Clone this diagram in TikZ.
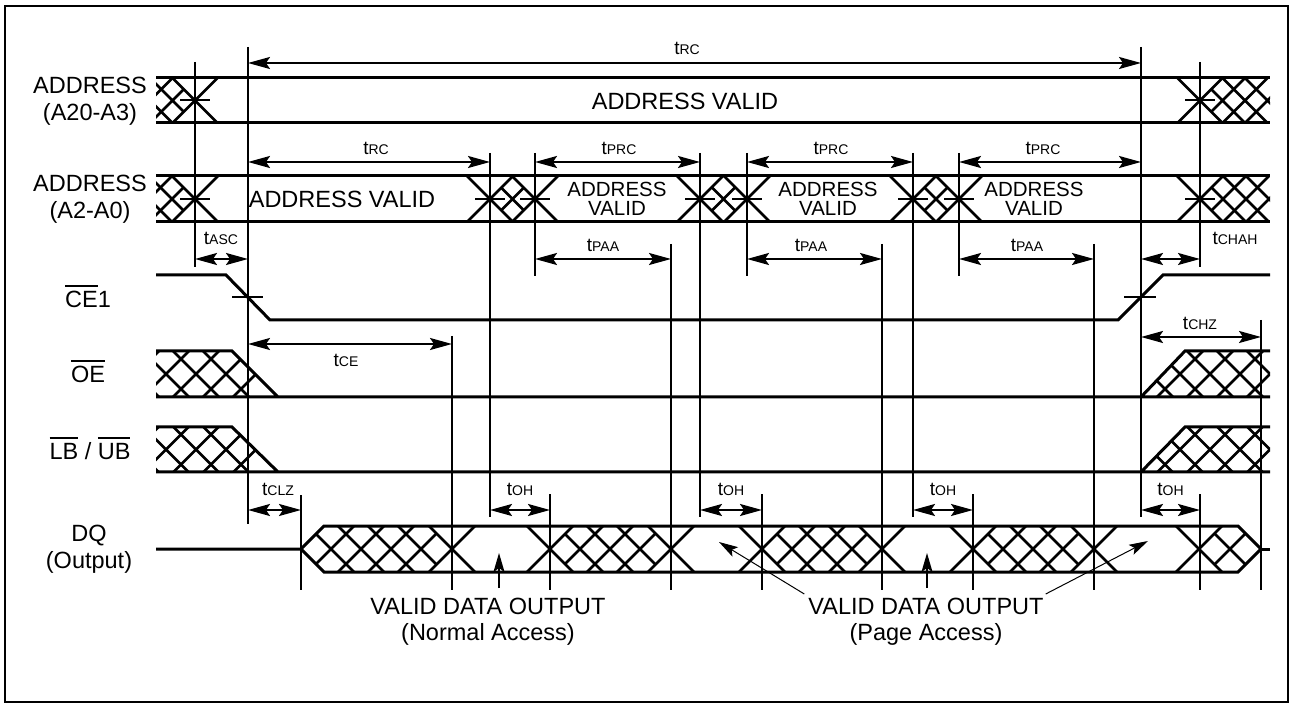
\documentclass[tikz,border=0pt]{standalone}
\usepackage{fontspec}
\setmainfont{Liberation Sans}
\usetikzlibrary{arrows.meta}
\tikzset{
  % Line styles
  busline/.style={line width=3pt},
  hatchline/.style={line width=2.8pt},
  timeline/.style={line width=2pt},
  % Arrow styles
  dimarrow/.style={{Stealth[length=22pt,width=12pt,inset=4pt]}-{Stealth[length=22pt,width=12pt,inset=4pt]}, line width=2pt},
  ptrarrow/.style={-{Stealth[length=19pt,width=11pt,inset=4pt]}, line width=2pt},
  thinptr/.style={-{Stealth[length=19pt,width=11pt,inset=4pt]}, line width=1pt},
  % Text styles
  siglabel/.style={font=\fontsize{23.5}{27}\selectfont, align=center, inner sep=0pt},
  validlabel/.style={font=\fontsize{23.5}{26}\selectfont, align=center, inner sep=0pt},
  pagelabel/.style={font=\fontsize{20.5}{19.5}\selectfont, align=center, inner sep=0pt},
  tlabel/.style={font=\fontsize{19}{19}\selectfont, inner sep=0pt, anchor=base}
}
\newcommand{\tm}[1]{t{\fontsize{14}{14}\selectfont #1}}
\newsavebox{\barbox}
\newcommand{\barred}[1]{\sbox{\barbox}{#1}\rlap{\rule[\dimexpr\ht\barbox+5pt\relax]{\wd\barbox}{2pt}}\usebox{\barbox}}
% bus transition: centre, top, bottom
\newcommand{\busX}[3]{\draw[hatchline] ({#1-(#3-#2)/2},#2) -- ({#1+(#3-#2)/2},#3) ({#1-(#3-#2)/2},#3) -- ({#1+(#3-#2)/2},#2);}
\newcommand{\busT}[3]{\draw[timeline] ({#1-15},{(#2+#3)/2}) -- ({#1+15},{(#2+#3)/2});}
% cross-hatch inside a clip path: path, top, bottom, centres
\newcommand{\hatchin}[4]{%
  \begin{scope}
    \clip #1;
    \foreach \cx in {#4} {\busX{\cx}{#2}{#3}}
  \end{scope}}

\begin{document}
\begin{tikzpicture}[x=1pt, y=-1pt]
  \useasboundingbox (0,0) rectangle (1291,708);
  \draw[line width=2pt] (5,6) rectangle (1288,702);

  % signal names
  \node[siglabel] (lblA) at (90,101.5) {ADDRESS\\(A20-A3)};
  \node[siglabel] (lblB) at (90,199) {ADDRESS\\(A2-A0)};
  \node[siglabel, anchor=base] (lblCE) at (88,308) {\barred{CE}1};
  \node[siglabel, anchor=base] (lblOE) at (88,383) {\barred{OE}};
  \node[siglabel, anchor=base] (lblLB) at (90,460) {\barred{LB} / \barred{UB}};
  \node[siglabel] (lblDQ) at (89,549) {DQ\\(Output)};

  % ADDRESS (A20-A3)
  \draw[busline] (156,78) -- (1270,78) (156,123) -- (1270,123);
  \hatchin{(156,78) -- (172.5,78) -- (195,100.5) -- (172.5,123) -- (156,123) -- cycle}{78}{123}{150,172.5}
  \hatchin{(1200,100.5) -- (1222.5,78) -- (1270,78) -- (1270,123) -- (1222.5,123) -- cycle}{78}{123}{1222.5,1245,1267.5}
  \foreach \x in {195,1200} {\busX{\x}{78}{123} \busT{\x}{78}{123}}
  \node[siglabel] (av1) at (685,101) {ADDRESS VALID};

  % ADDRESS (A2-A0)
  \draw[busline] (156,176) -- (1270,176) (156,222) -- (1270,222);
  \hatchin{(156,176) -- (172,176) -- (195,199) -- (172,222) -- (156,222) -- cycle}{176}{222}{149,172}
  \hatchin{(1200,199) -- (1223,176) -- (1270,176) -- (1270,222) -- (1223,222) -- cycle}{176}{222}{1223,1246,1269}
  \foreach \a/\b in {490/535, 700/747, 913/959}
    {\hatchin{(\a,199) -- ({(\a+\b)/2},176) -- (\b,199) -- ({(\a+\b)/2},222) -- cycle}{176}{222}{{(\a+\b)/2}}}
  \foreach \x in {195,490,535,700,747,913,959,1200} {\busX{\x}{176}{222} \busT{\x}{176}{222}}
  \node[siglabel] (av2) at (342,199) {ADDRESS VALID};
  \node[pagelabel] (pv1) at (617,199) {ADDRESS\\VALID};
  \node[pagelabel] (pv2) at (828,199) {ADDRESS\\VALID};
  \node[pagelabel] (pv3) at (1034,199) {ADDRESS\\VALID};

  % CE1
  \draw[busline] (156,275) -- (226,275) -- (270,320) -- (1118,320) -- (1163,275) -- (1270,275);
  \draw[timeline] (232,297.5) -- (263,297.5) (1124,297.5) -- (1156,297.5);

  % OE and LB/UB
  \foreach \t/\b in {351/397, 427/472} {
    \draw[busline] (156,\t) -- (232,\t) -- (278,\b) (156,\b) -- (1270,\b) (1141,\b) -- (1185,\t) -- (1270,\t);
    \hatchin{(156,\t) -- (232,\t) -- (278,\b) -- (156,\b) -- cycle}{\t}{\b}{136,166,...,256}
    \hatchin{(1141,\b) -- (1185,\t) -- (1270,\t) -- (1270,\b) -- cycle}{\t}{\b}{1150,1180,...,1270}
  }

  % DQ
  \draw[busline] (156,549) -- (301,549) -- (324,526) -- (1238,526) -- (1261,549) -- (1238,572) -- (324,572) -- (301,549);
  \draw[busline] (1261,549) -- (1270,549);
  \hatchin{(301,549) -- (324,526) -- (429,526) -- (452,549) -- (429,572) -- (324,572) -- cycle}{526}{572}{331,361,391,421}
  \hatchin{(550,549) -- (573,526) -- (648,526) -- (671,549) -- (648,572) -- (573,572) -- cycle}{526}{572}{580,610,640}
  \hatchin{(762,549) -- (785,526) -- (859,526) -- (882,549) -- (859,572) -- (785,572) -- cycle}{526}{572}{792,822,852}
  \hatchin{(973,549) -- (996,526) -- (1071,526) -- (1094,549) -- (1071,572) -- (996,572) -- cycle}{526}{572}{1003,1033,1063}
  \hatchin{(1199,549) -- (1222,526) -- (1238,526) -- (1261,549) -- (1238,572) -- (1222,572) -- cycle}{526}{572}{1230}
  \foreach \x in {452,550,671,762,882,973,1094,1199} {\busX{\x}{526}{572}}

  % timing reference lines
  \foreach \x/\ya/\yb in {195/62/267, 248/47/524, 301/495/590, 452/336/590, 490/153/517,
      535/153/276, 550/494/590, 671/244/590, 700/153/517, 747/153/276, 762/494/590,
      882/244/590, 913/153/517, 959/153/276, 973/494/590, 1094/244/590, 1141/47/517,
      1200/62/267, 1200/494/590, 1261/320/590}
    \draw[timeline] (\x,\ya) -- (\x,\yb);

  % timing parameters
  \draw[dimarrow] (248,63) -- (1141,63);
  \node[tlabel] (tRCa) at (687,55) {\tm{RC}};
  \draw[dimarrow] (248,162) -- (490,162);
  \node[tlabel] (tRCb) at (376,155) {\tm{RC}};
  \draw[dimarrow] (535,162) -- (700,162);
  \node[tlabel] (tPRCa) at (619,155) {\tm{PRC}};
  \draw[dimarrow] (747,162) -- (913,162);
  \node[tlabel] (tPRCb) at (831,155) {\tm{PRC}};
  \draw[dimarrow] (959,162) -- (1141,162);
  \node[tlabel] (tPRCc) at (1043,155) {\tm{PRC}};
  \draw[dimarrow] (195,259) -- (248,259);
  \node[tlabel] (tASC) at (221,245) {\tm{ASC}};
  \draw[dimarrow] (535,259) -- (671,259);
  \node[tlabel] (tPAAa) at (603,252) {\tm{PAA}};
  \draw[dimarrow] (747,259) -- (882,259);
  \node[tlabel] (tPAAb) at (811,252) {\tm{PAA}};
  \draw[dimarrow] (959,259) -- (1094,259);
  \node[tlabel] (tPAAc) at (1027,252) {\tm{PAA}};
  \draw[dimarrow] (1141,259) -- (1200,259);
  \node[tlabel] (tCHAH) at (1235,245) {\tm{CHAH}};
  \draw[dimarrow] (248,344) -- (452,344);
  \node[tlabel] (tCE) at (346,367) {\tm{CE}};
  \draw[dimarrow] (1141,337) -- (1261,337);
  \node[tlabel] (tCHZ) at (1200,330) {\tm{CHZ}};
  \draw[dimarrow] (248,510) -- (301,510);
  \node[tlabel] (tCLZ) at (278,495) {\tm{CLZ}};
  \foreach \a/\b [count=\i] in {490/550, 700/762, 913/973, 1141/1200} {
    \draw[dimarrow] (\a,510) -- (\b,510);
    \node[tlabel] (tOH\i) at ({(\a+\b)/2},495) {\tm{OH}};
  }

  % valid data notes
  \node[validlabel, anchor=north] (normout) at (488,598) {VALID DATA OUTPUT\\(Normal Access)};
  \node[validlabel, anchor=north] (pageout) at (926,598) {VALID DATA OUTPUT\\(Page Access)};
  \coordinate (nTip) at (499,553);
  \coordinate (pTipA) at (719,542);
  \coordinate (pTipB) at (927,553);
  \coordinate (pTipC) at (1148,541);
  \draw[ptrarrow] (499,588) -- (nTip);
  \draw[thinptr] (pageout.north west) ++(-4,-4) -- (pTipA);
  \draw[ptrarrow] (927,588) -- (pTipB);
  \draw[thinptr] (pageout.north east) ++(2,-4) -- (pTipC);
\end{tikzpicture}
\end{document}
